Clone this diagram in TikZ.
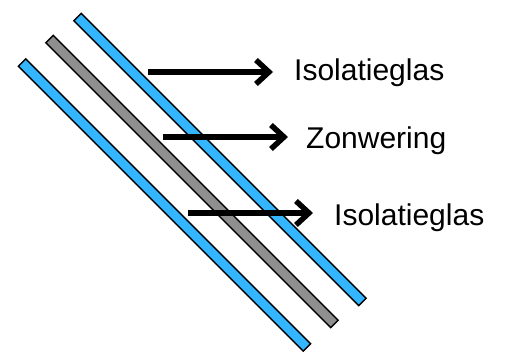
\documentclass[tikz,border=0pt]{standalone}
\usepackage{fontspec}
\setmainfont{Liberation Sans}
\usetikzlibrary{arrows.meta}
\definecolor{glassblue}{RGB}{51,181,255}
\definecolor{screengray}{RGB}{143,143,143}

\begin{document}
\begin{tikzpicture}[x=1pt,y=-1pt]
	 \tikzstyle{pane}=[draw=black,line width=1.4pt,rectangle,minimum width=403pt,minimum height=10.5pt,inner sep=0pt,rotate=-45]
	 \tikzstyle{glass pane}=[pane,fill=glassblue]
	 \tikzstyle{screen pane}=[pane,fill=screengray]
	 \tikzstyle{part name}=[anchor=base west,inner sep=0pt,font=\fontsize{30}{36}\selectfont]
	 \tikzstyle{pointer}=[draw,line width=5.5pt,-{Straight Barb[length=13pt,width=24pt]},shorten >=21pt]
	 \useasboundingbox (0,0) rectangle (505,352);
	 \node[glass pane] (g1) at (220,159.5) {};
	 \node[screen pane] (z1) at (192,181.5) {};
	 \node[glass pane] (g2) at (164.5,205) {};
	 \node[part name] (n1) at (294,80.7) {Isolatieglas};
	 \node[part name] (n2) at (306,148.3) {Zonwering};
	 \node[part name] (n3) at (334,225.7) {Isolatieglas};
	 \coordinate (s1) at (148,72);
	 \coordinate (s2) at (163,137);
	 \coordinate (s3) at (188,213);
	 \draw[pointer] (s1) -- (s1 -| n1.west);
	 \draw[pointer,shorten >=18pt] (s2) -- (s2 -| n2.west);
	 \draw[pointer] (s3) -- (s3 -| n3.west);
\end{tikzpicture}
\end{document}
